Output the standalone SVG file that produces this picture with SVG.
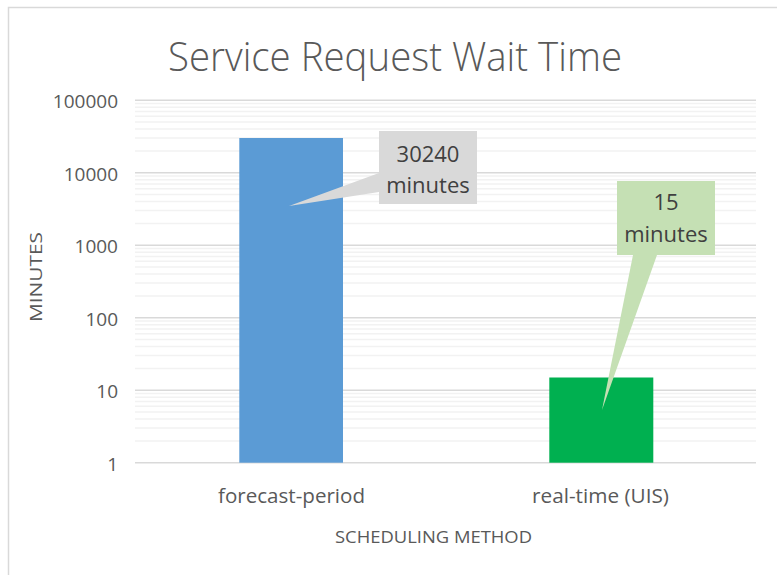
<svg xmlns="http://www.w3.org/2000/svg" xmlns:xlink="http://www.w3.org/1999/xlink" width="777" height="575" viewBox="0 0 777 575">
<style>
text{font-family:"Open Sans","Liberation Sans",sans-serif;fill:#595959}
.tick{font-size:19px;text-anchor:end}
.cat{font-size:20px;text-anchor:middle}
.axt{font-size:17px;text-anchor:middle}
.call{font-size:22px;text-anchor:middle;fill:#404040}
.minor line{stroke:#F2F2F2;stroke-width:1.5}
.major{stroke:#D9D9D9;stroke-width:1.6}
</style>
<defs>
<g id="dec" class="minor">
<line x1="135" x2="756" y1="-21.82" y2="-21.82"/>
<line x1="135" x2="756" y1="-34.59" y2="-34.59"/>
<line x1="135" x2="756" y1="-43.65" y2="-43.65"/>
<line x1="135" x2="756" y1="-50.68" y2="-50.68"/>
<line x1="135" x2="756" y1="-56.42" y2="-56.42"/>
<line x1="135" x2="756" y1="-61.27" y2="-61.27"/>
<line x1="135" x2="756" y1="-65.47" y2="-65.47"/>
<line x1="135" x2="756" y1="-69.18" y2="-69.18"/>
</g>
</defs>
<rect x="0" y="0" width="777" height="575" fill="#FFFFFF"/>
<rect id="frame" x="8.5" y="7.5" width="800" height="600" fill="none" stroke="#D9D9D9" stroke-width="1.5"/>
<text id="title" x="395" y="71" font-size="40" font-weight="300" textLength="454" lengthAdjust="spacingAndGlyphs" text-anchor="middle">Service Request Wait Time</text>
<g id="gridlines">
<use xlink:href="#dec" transform="translate(0,462.7)"/>
<use xlink:href="#dec" transform="translate(0,390.2)"/>
<use xlink:href="#dec" transform="translate(0,317.7)"/>
<use xlink:href="#dec" transform="translate(0,245.2)"/>
<use xlink:href="#dec" transform="translate(0,172.7)"/>
<line class="major" x1="135" x2="756" y1="100.2" y2="100.2"/>
<line class="major" x1="135" x2="756" y1="172.7" y2="172.7"/>
<line class="major" x1="135" x2="756" y1="245.2" y2="245.2"/>
<line class="major" x1="135" x2="756" y1="317.7" y2="317.7"/>
<line class="major" x1="135" x2="756" y1="390.2" y2="390.2"/>
<line class="major" x1="135" x2="756" y1="462.7" y2="462.7"/>
</g>
<g id="y-axis">
<text class="tick" x="118" y="108">100000</text>
<text class="tick" x="118" y="180.5">10000</text>
<text class="tick" x="118" y="253">1000</text>
<text class="tick" x="118" y="325.5">100</text>
<text class="tick" x="118" y="398">10</text>
<text class="tick" x="118" y="470.5">1</text>
<text class="axt" transform="translate(42,277) rotate(-90)" font-size="18" textLength="90" lengthAdjust="spacingAndGlyphs">MINUTES</text>
</g>
<g id="bar-forecast">
<rect x="239.3" y="138" width="103.7" height="324.7" fill="#5B9BD5"/>
</g>
<g id="bar-realtime">
<rect x="549.3" y="377.5" width="104" height="85.2" fill="#00B050"/>
</g>
<g id="x-axis">
<text class="cat" x="291.5" y="503" textLength="147" lengthAdjust="spacingAndGlyphs">forecast-period</text>
<text class="cat" x="600.5" y="503" textLength="137" lengthAdjust="spacingAndGlyphs">real-time (UIS)</text>
<text class="axt" x="433.5" y="543" textLength="197" lengthAdjust="spacingAndGlyphs">SCHEDULING METHOD</text>
</g>
<g id="connectors"></g>
<g id="callout-forecast">
<path d="M379,131 H477 V204 H379 V192 L289,206 L379,173 Z" fill="#D9D9D9"/>
<text class="call" x="428" y="162">30240</text>
<text class="call" x="428" y="193">minutes</text>
</g>
<g id="callout-realtime">
<path d="M617,181 H715 V255 H657 L602,410 L633,255 H617 Z" fill="#C5E0B4"/>
<text class="call" x="666" y="210">15</text>
<text class="call" x="666" y="242">minutes</text>
</g>
</svg>
